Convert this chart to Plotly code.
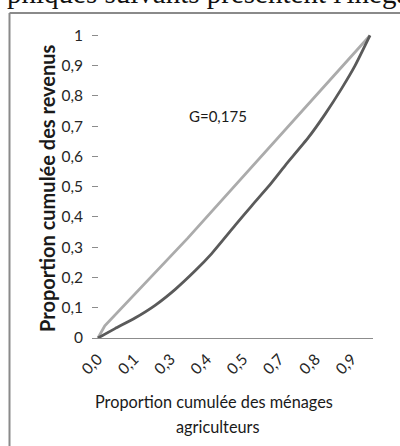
import plotly.graph_objects as go

# Data
lorenz_x = [0, 0.0625, 0.136, 0.21, 0.283, 0.357, 0.418, 0.504, 0.565, 0.626,
            0.688, 0.773, 0.835, 0.896, 0.945, 1.0]
lorenz_y = [0, 0.031, 0.066, 0.108, 0.160, 0.222, 0.279, 0.372, 0.437, 0.500,
            0.570, 0.662, 0.740, 0.825, 0.900, 1.0]
equal_x = [0, 0.025, 0.33, 0.65, 1.0]
equal_y = [0, 0.04, 0.33, 0.65, 1.0]
x_tickvals = [0, 0.1333, 0.2667, 0.4, 0.5333, 0.6667, 0.8, 0.9333]
x_ticktext = ["0,0", "0,1", "0,3", "0,4", "0,5", "0,7", "0,8", "0,9"]
y_tickvals = [0, 0.1, 0.2, 0.3, 0.4, 0.5, 0.6, 0.7, 0.8, 0.9, 1.0]
y_ticktext = ["0", "0,1", "0,2", "0,3", "0,4", "0,5", "0,6", "0,7", "0,8", "0,9", "1"]
gini_label = "G=0,175"
x_title_1 = "Proportion cumulée des ménages"
x_title_2 = "agriculteurs"
y_title = "Proportion cumulée des revenus"
top_text = "phiques suivants présentent l'inégalité"

W, H = 400, 446
L, R, T, B = 92, 27, 30, 108
PW, PH = W - L - R, H - T - B

def px(X):
    return (X - L) / PW

def py(Y):
    return (H - B - Y) / PH

fig = go.Figure()
fig.add_trace(go.Scatter(x=equal_x, y=equal_y, mode="lines",
                         line=dict(color="#ababab", width=2.8), showlegend=False))
fig.add_trace(go.Scatter(x=lorenz_x, y=lorenz_y, mode="lines",
                         line=dict(color="#5a5a5a", width=2.8, shape="spline", smoothing=0.5),
                         showlegend=False))

tick_font = dict(family="Lato, Liberation Sans, sans-serif", size=15.5, color="#262626")

fig.update_layout(
    width=W, height=H,
    margin=dict(l=L, r=R, t=T, b=B, pad=0, autoexpand=False),
    paper_bgcolor="white", plot_bgcolor="white",
    xaxis=dict(range=[-0.022, 1.011], tickvals=x_tickvals, ticktext=x_ticktext,
               tickangle=-45, showgrid=False, zeroline=False,
               showline=True, linecolor="#8c8c8c", linewidth=1,
               ticks="", tickfont=tick_font, automargin=False,
               ticklabelstandoff=5),
    yaxis=dict(range=[0, 1.018], tickvals=y_tickvals, ticktext=y_ticktext,
               showgrid=False, zeroline=False, showline=False,
               ticks="inside", ticklen=6, tickcolor="#8c8c8c", tickwidth=1,
               ticklabelstandoff=8, tickfont=tick_font, automargin=False),
    showlegend=False,
)

ann_font = dict(family="Lato, Liberation Sans, sans-serif", color="#1a1a1a")
fig.add_annotation(xref="paper", yref="paper", x=px(47), y=py(188),
                   text="<b>" + y_title + "</b>", textangle=-90, showarrow=False,
                   font=dict(size=20, **ann_font), xanchor="center", yanchor="middle")
fig.add_annotation(xref="paper", yref="paper", x=px(214), y=py(401),
                   text=x_title_1, showarrow=False,
                   font=dict(size=16.3, **ann_font), xanchor="center", yanchor="middle")
fig.add_annotation(xref="paper", yref="paper", x=px(217), y=py(427),
                   text=x_title_2, showarrow=False,
                   font=dict(size=16.3, **ann_font), xanchor="center", yanchor="middle")
fig.add_annotation(xref="paper", yref="paper", x=px(218), y=py(116),
                   text=gini_label, showarrow=False,
                   font=dict(size=15, **ann_font), xanchor="center", yanchor="middle")
fig.add_annotation(xref="paper", yref="paper", x=px(5), y=py(11),
                   text=top_text, showarrow=False,
                   font=dict(family="Liberation Serif, serif", size=29, color="#111111"),
                   xanchor="left", yanchor="bottom")

# Frame around the chart (left and top edges visible)
fig.add_shape(type="line", xref="paper", yref="paper",
              x0=px(9.5), x1=px(9.5), y0=py(13), y1=py(H + 5),
              line=dict(color="#8a8a8a", width=2))
fig.add_shape(type="line", xref="paper", yref="paper",
              x0=px(9.5), x1=px(W + 5), y0=py(13), y1=py(13),
              line=dict(color="#8a8a8a", width=2))

fig.write_html("out.html", config={"displayModeBar": False},
               post_script="document.body.style.margin='0px';document.body.style.overflow='hidden';")
